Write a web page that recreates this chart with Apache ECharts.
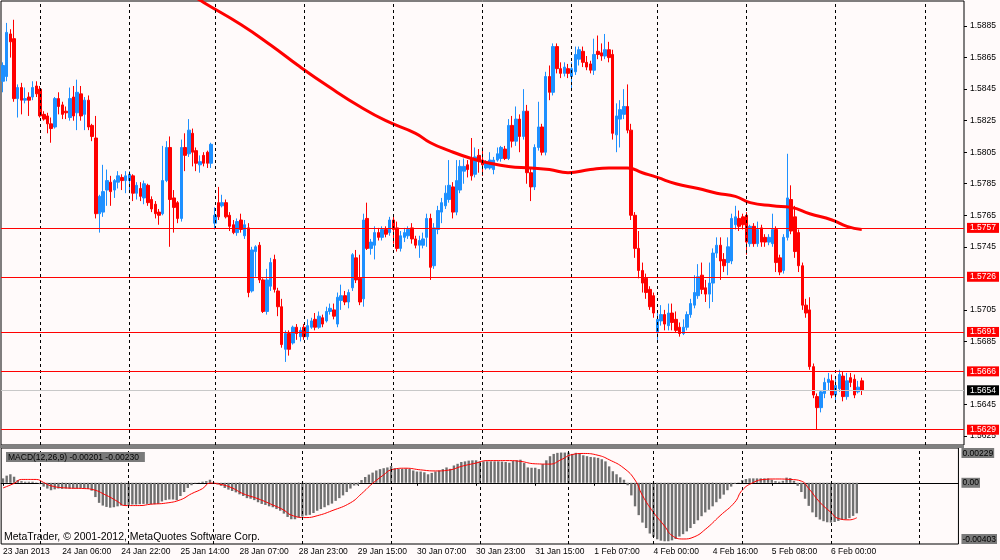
<!DOCTYPE html>
<html><head><meta charset="utf-8">
<script src="https://cdn.jsdelivr.net/npm/echarts@6.0.0/dist/echarts.min.js"></script>
<style>html,body{margin:0;padding:0;background:#fffafa;}#c{width:1000px;height:560px;}</style>
</head><body><div id="c"></div>
<script>
// ---- tick labels (one every 16 hourly bars) ----
const tickLabels = ["23 Jan 2013","24 Jan 06:00","24 Jan 22:00","25 Jan 14:00","28 Jan 07:00","28 Jan 23:00","29 Jan 15:00","30 Jan 07:00","30 Jan 23:00","31 Jan 15:00","1 Feb 07:00","4 Feb 00:00","4 Feb 16:00","5 Feb 08:00","6 Feb 00:00"];
// ---- H1 candles, prices as 1.xxxx in pips (5885 = 1.5885) ----
const opens = [5850,5853,5880,5877,5839,5846,5838,5840,5840,5847,5845,5829,5828,5823,5821,5839,5835,5831,5827,5840,5830,5842,5829,5838,5822,5814,5766,5767,5781,5786,5781,5786,5789,5787,5787,5790,5779,5782,5776,5784,5775,5772,5767,5766,5787,5808,5776,5773,5763,5808,5804,5817,5806,5797,5803,5805,5798,5760,5773,5771,5773,5765,5759,5754,5762,5752,5757,5717,5742,5746,5724,5704,5720,5737,5717,5707,5680,5690,5684,5694,5688,5694,5688,5694,5699,5694,5700,5698,5704,5705,5696,5711,5714,5710,5719,5738,5725,5712,5763,5744,5746,5754,5751,5756,5754,5762,5757,5744,5751,5752,5757,5750,5746,5746,5751,5763,5733,5756,5767,5771,5775,5783,5767,5781,5793,5797,5801,5791,5803,5800,5795,5795,5794,5800,5801,5807,5801,5822,5812,5826,5815,5831,5792,5783,5808,5821,5805,5853,5843,5872,5858,5855,5858,5853,5856,5864,5869,5862,5861,5857,5869,5868,5866,5870,5867,5816,5826,5829,5834,5819,5765,5744,5730,5725,5718,5714,5691,5698,5702,5695,5703,5699,5694,5690,5694,5702,5708,5714,5727,5719,5715,5722,5741,5746,5737,5735,5736,5759,5763,5764,5765,5747,5758,5747,5757,5751,5748,5747,5756,5738,5730,5751,5775,5764,5754,5733,5708,5705,5669,5650,5643,5652,5659,5660,5651,5655,5663,5650,5662,5661,5653,5660];
const closes = [5860,5881,5875,5839,5846,5838,5839,5838,5846,5842,5828,5826,5823,5820,5839,5834,5829,5830,5839,5828,5843,5828,5838,5821,5815,5766,5777,5780,5787,5780,5787,5790,5787,5790,5791,5779,5784,5777,5785,5773,5769,5766,5765,5787,5808,5775,5770,5763,5808,5803,5819,5805,5798,5799,5798,5798,5810,5765,5764,5773,5764,5758,5754,5761,5756,5759,5716,5743,5745,5724,5704,5724,5735,5718,5707,5683,5690,5680,5694,5690,5692,5688,5695,5698,5694,5701,5696,5704,5706,5701,5713,5714,5710,5716,5740,5724,5710,5762,5744,5748,5754,5751,5756,5753,5762,5756,5744,5752,5754,5756,5750,5746,5749,5750,5763,5732,5757,5768,5773,5779,5784,5767,5787,5796,5796,5794,5790,5802,5800,5797,5799,5800,5800,5804,5808,5801,5822,5812,5826,5815,5831,5792,5783,5808,5821,5805,5853,5843,5872,5858,5855,5859,5855,5858,5867,5870,5862,5859,5857,5867,5867,5866,5870,5865,5817,5828,5832,5834,5819,5765,5744,5730,5722,5716,5707,5703,5699,5702,5696,5703,5697,5692,5690,5694,5702,5709,5716,5726,5718,5715,5722,5741,5746,5736,5733,5745,5763,5764,5758,5759,5748,5758,5747,5756,5748,5748,5751,5756,5735,5729,5751,5776,5755,5742,5733,5708,5703,5669,5651,5643,5653,5659,5661,5651,5657,5664,5650,5660,5659,5651,5656,5654];
const lows = [5843,5850,5865,5837,5827,5829,5836,5828,5838,5840,5827,5825,5817,5811,5820,5829,5826,5826,5825,5825,5819,5825,5819,5819,5812,5763,5754,5764,5771,5771,5776,5782,5781,5779,5779,5774,5775,5774,5772,5771,5767,5763,5759,5765,5786,5745,5754,5760,5761,5793,5802,5796,5793,5792,5796,5795,5795,5756,5762,5770,5763,5755,5753,5752,5754,5750,5713,5716,5726,5722,5703,5702,5717,5716,5701,5681,5672,5676,5683,5686,5685,5686,5686,5693,5692,5693,5694,5697,5702,5699,5694,5705,5708,5706,5717,5722,5708,5707,5743,5740,5737,5749,5749,5751,5752,5747,5742,5742,5748,5750,5747,5744,5738,5744,5745,5724,5731,5753,5760,5769,5773,5763,5765,5779,5785,5789,5787,5789,5792,5790,5794,5794,5791,5799,5799,5800,5800,5808,5809,5805,5813,5785,5774,5781,5806,5803,5803,5838,5841,5855,5852,5853,5852,5844,5854,5860,5859,5857,5855,5854,5864,5863,5864,5862,5813,5805,5808,5826,5817,5762,5738,5725,5716,5712,5705,5700,5686,5695,5692,5692,5692,5691,5688,5689,5692,5700,5706,5712,5715,5710,5706,5710,5738,5724,5729,5727,5734,5756,5755,5756,5740,5745,5745,5745,5745,5745,5746,5745,5729,5727,5728,5749,5753,5738,5729,5705,5700,5667,5649,5629,5640,5649,5654,5649,5646,5653,5647,5648,5656,5649,5652,5651];
const highs = [5862,5887,5883,5889,5848,5849,5846,5843,5850,5850,5847,5831,5830,5827,5840,5843,5837,5834,5846,5847,5851,5847,5840,5841,5823,5828,5778,5797,5794,5790,5788,5793,5791,5793,5793,5791,5786,5786,5787,5785,5777,5774,5769,5809,5812,5815,5781,5774,5813,5817,5826,5820,5808,5803,5805,5806,5811,5770,5783,5778,5775,5767,5762,5763,5766,5762,5760,5745,5746,5748,5725,5731,5738,5740,5719,5712,5692,5692,5695,5696,5694,5696,5699,5700,5703,5704,5702,5707,5709,5709,5716,5721,5717,5718,5741,5743,5740,5766,5773,5750,5758,5757,5758,5758,5764,5764,5761,5755,5757,5758,5760,5752,5752,5754,5766,5766,5760,5771,5776,5784,5800,5786,5800,5800,5801,5800,5814,5808,5807,5808,5800,5805,5802,5808,5809,5809,5826,5828,5834,5829,5845,5835,5795,5810,5837,5823,5856,5860,5874,5874,5862,5862,5861,5862,5872,5872,5872,5866,5863,5877,5879,5874,5880,5875,5870,5836,5838,5845,5848,5823,5767,5755,5735,5728,5720,5716,5704,5708,5705,5709,5709,5704,5697,5699,5704,5712,5727,5734,5735,5724,5735,5744,5751,5751,5741,5751,5766,5771,5768,5766,5767,5759,5760,5761,5759,5753,5753,5766,5758,5740,5753,5804,5784,5771,5756,5735,5712,5713,5671,5652,5654,5662,5665,5664,5663,5667,5666,5665,5665,5664,5660,5662];
// ---- moving average (sampled bar index / value in pips) ----
const maIdx = [50,54,64,72,80,88,96,103,111,115,120,126,131,136,142,147,152,158,163,168,172,176,181,187,192,197,201,207,212,217,223,227,231];
const maVal = [5906,5900,5886,5873,5859,5846,5834,5825,5817,5811,5806,5801,5798,5796,5795,5794,5792,5794,5795,5795,5792,5789,5785,5782,5779,5777,5773,5771,5770,5766,5762,5758,5756];
// ---- MACD histogram (units of 0.00001) ----
const macdHist = [29,47,56,40,18,11,7,7,7,2,-9,-25,-38,-49,-43,-38,-40,-38,-38,-38,-38,-34,-38,-40,-52,-94,-132,-150,-159,-164,-161,-155,-150,-148,-146,-143,-143,-141,-139,-139,-141,-141,-139,-123,-114,-110,-110,-114,-87,-61,-34,-16,-4,2,7,11,20,2,-11,-20,-34,-45,-54,-63,-76,-87,-101,-105,-114,-128,-139,-146,-155,-161,-173,-184,-203,-225,-240,-240,-229,-222,-215,-211,-199,-184,-173,-161,-148,-137,-119,-101,-83,-61,-38,-18,-16,18,38,54,67,81,90,96,101,110,96,92,92,94,92,81,74,74,69,56,65,74,81,90,101,92,114,125,137,141,146,148,148,141,141,141,141,141,141,139,137,132,143,148,152,130,101,99,99,90,123,148,175,190,197,199,199,199,190,197,190,181,175,170,168,164,155,141,108,76,56,36,20,-16,-83,-155,-213,-262,-298,-334,-356,-372,-381,-385,-385,-379,-370,-354,-338,-320,-298,-271,-247,-220,-195,-177,-155,-128,-105,-78,-49,-25,-7,2,18,25,29,29,29,29,29,29,20,11,7,13,34,31,13,-20,-61,-105,-152,-195,-226,-242,-253,-260,-262,-258,-251,-244,-240,-233,-218,-201];
// ---- MACD signal line (sampled bar index / value in 0.00001) ----
const signalIdx = [0,3,5,9,11,13,17,22,24,28,31,33,37,40,44,48,51,54,56,59,62,65,69,73,76,78,82,85,89,94,97,100,103,105,109,113,117,121,124,128,131,137,140,144,148,151,154,157,161,164,168,171,173,176,179,181,184,187,190,194,198,200,203,206,209,213,216,218,221,224,226,229,231];
const signalVal = [-34,-4,22,22,2,-20,-34,-38,-43,-83,-123,-150,-150,-141,-134,-112,-72,-38,-2,-11,-34,-72,-105,-146,-180,-213,-229,-217,-184,-132,-72,-4,52,85,96,85,78,85,108,130,146,146,141,125,123,152,186,193,181,152,96,18,-83,-195,-285,-347,-370,-356,-307,-217,-128,-49,2,22,25,22,11,-38,-128,-195,-235,-244,-230];
// ---- levels ----
const levels = [1.5757, 1.5726, 1.5691, 1.5666, 1.5629];
const bid = 1.5654;
const priceTicks = [1.5625,1.5645,1.5685,1.5705,1.5745,1.5765,1.5785,1.5805,1.5825,1.5845,1.5865,1.5885];
const macdTicks = [-0.00403, 0, 0.00229];
const macdTitle = 'MACD(12,26,9) -0.00201 -0.00230';
const copyright = 'MetaTrader, \u00a9 2001-2012, MetaQuotes Software Corp.';

// ---- hourly categories (Fri 22:00 -> Mon 00:00) ----
const MON = ['Jan','Feb','Mar'];
const cats = [], dayStart = [];
let t = Date.UTC(2013, 0, 23, 14);
while (cats.length < 259) {
  const d = new Date(t);
  if (d.getUTCHours() === 0) dayStart.push(cats.length);
  cats.push(d.getUTCDate() + ' ' + MON[d.getUTCMonth()] + ' ' + String(d.getUTCHours()).padStart(2,'0') + ':00');
  t += 3600e3;
  const n = new Date(t);
  if (n.getUTCDay() === 5 && n.getUTCHours() === 23) t += 49 * 3600e3;
}

const candles = opens.map((o, i) => [1 + o/1e4, 1 + closes[i]/1e4, 1 + lows[i]/1e4, 1 + highs[i]/1e4]);
const maData = maIdx.map((x, k) => [x, 1 + maVal[k]/1e4]);
const histData = macdHist.map(v => v/1e5);
const sigData = signalIdx.map((x, k) => [x, signalVal[k]/1e5]);

const FONT = '"Liberation Sans",Arial,sans-serif';
const FS = 8.5;
const vLines = dayStart.map(i => ({ xAxis: cats[i] }));
const dashStyle = { color: '#000', width: 1, type: [3, 3] };
const labelFmt = (idx) => idx % 16 === 0 && idx / 16 < tickLabels.length;

const chart = echarts.init(document.getElementById('c'));
chart.setOption({
  animation: false,
  backgroundColor: '#fffafa',
  grid: [
    { left: 1, right: 36, top: 1, height: 444, show: true, borderColor: '#000', borderWidth: 1 },
    { left: 1, right: 36, top: 448, height: 96, show: true, borderColor: '#000', borderWidth: 1 }
  ],
  xAxis: [
    { type: 'category', gridIndex: 0, data: cats, boundaryGap: true,
      axisLine: { show: false }, axisTick: { show: false }, axisLabel: { show: false }, splitLine: { show: false } },
    { type: 'category', gridIndex: 1, data: cats, boundaryGap: true,
      axisLine: { show: true, lineStyle: { color: '#000' } },
      axisTick: { show: true, alignWithLabel: true, interval: labelFmt, length: 3, lineStyle: { color: '#000' } },
      axisLabel: { show: true, interval: labelFmt, formatter: (v, idx) => tickLabels[idx / 16], align: 'left',
        margin: 3, color: '#000', fontSize: FS, fontFamily: FONT },
      splitLine: { show: false } }
  ],
  yAxis: [
    { type: 'value', gridIndex: 0, position: 'right', min: 1.56193, max: 1.59009, scale: true,
      axisLine: { show: false }, splitLine: { show: false },
      axisTick: { show: true, customValues: priceTicks, length: 3, lineStyle: { color: '#000' } },
      axisLabel: { customValues: priceTicks, formatter: v => v.toFixed(4), color: '#000', fontSize: FS, fontFamily: FONT, margin: 6 } },
    { type: 'value', gridIndex: 1, position: 'right', min: -0.00403, max: 0.00229,
      axisLine: { show: false }, splitLine: { show: false }, axisTick: { show: false },
      axisLabel: { customValues: macdTicks, formatter: v => v === 0 ? '0.00' : v.toFixed(5), color: '#000',
        backgroundColor: '#7a7a7a', padding: [1, 1, 0, 1], fontSize: FS, fontFamily: FONT, margin: 3,
        verticalAlignMinLabel: 'bottom', verticalAlignMaxLabel: 'top' } }
  ],
  series: [
    { type: 'line', xAxisIndex: 0, yAxisIndex: 0, data: [], z: 1, silent: true,
      markLine: { silent: true, symbol: ['none', 'none'], label: { show: false }, lineStyle: dashStyle, data: vLines } },
    { type: 'candlestick', xAxisIndex: 0, yAxisIndex: 0, data: candles, barWidth: 3, z: 3,
      itemStyle: { color: '#1e90ff', color0: '#ff0000', borderColor: '#1e90ff', borderColor0: '#ff0000', borderWidth: 1 },
      markLine: { silent: true, symbol: ['none', 'none'], precision: 4,
        label: { show: true, position: 'end', distance: 3, formatter: p => Number(p.value).toFixed(4),
          color: '#fff', backgroundColor: '#ff0000', padding: [1, 3, 0, 3], fontSize: FS, fontFamily: FONT },
        lineStyle: { color: '#ff0000', width: 1, type: 'solid' },
        data: levels.map(v => ({ yAxis: v })).concat([{ yAxis: bid,
          lineStyle: { color: '#c8c8c8', width: 1, type: 'solid' },
          label: { backgroundColor: '#000', color: '#fff' } }]) } },
    { type: 'line', xAxisIndex: 0, yAxisIndex: 0, data: maData, smooth: true, symbol: 'none', z: 4,
      lineStyle: { color: '#ff0000', width: 3 } },
    { type: 'bar', xAxisIndex: 1, yAxisIndex: 1, data: histData, barWidth: 2.4, z: 2,
      itemStyle: { color: '#707070' },
      markLine: { silent: true, symbol: ['none', 'none'], label: { show: false }, lineStyle: dashStyle, data: vLines } },
    { type: 'line', xAxisIndex: 1, yAxisIndex: 1, data: sigData, smooth: true, symbol: 'none', z: 3,
      lineStyle: { color: '#ff0000', width: 1 } }
  ],
  graphic: [
    { type: 'rect', shape: { x: 0, y: 445, width: 964, height: 3 }, style: { fill: '#808080' }, z: 10 },
    { type: 'text', left: 6, top: 452, z: 10,
      style: { text: macdTitle, fill: '#000', font: FS + 'px ' + FONT, backgroundColor: '#7a7a7a', padding: [1, 6, 0, 2] } },
    { type: 'text', left: 4, top: 532, z: 10,
      style: { text: copyright, fill: '#000', font: '10.5px ' + FONT } }
  ]
});
</script></body></html>
